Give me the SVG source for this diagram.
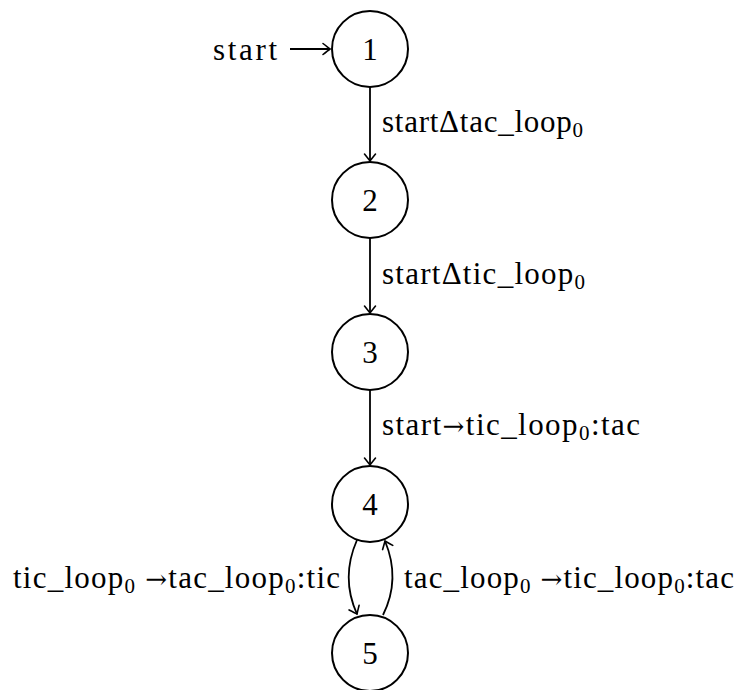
<svg xmlns="http://www.w3.org/2000/svg" width="737" height="690" viewBox="0 0 737 690">
<style>
text{font-size:31px;fill:#000}
.num{text-anchor:middle}
.sub{font-size:21px}
.ar{font-family:'DejaVu Serif',serif;font-size:26px}
.node circle{fill:#fff;stroke:#000;stroke-width:2}
.edge{fill:none;stroke:#000;stroke-width:1.8;marker-end:url(#arr)}
</style>
<defs>
<marker id="arr" viewBox="-9 -7 11 14" refX="0" refY="0" markerWidth="11" markerHeight="14" markerUnits="userSpaceOnUse" orient="auto">
<path d="M -7 -5.5 Q -2 -1.5 0 0 Q -2 1.5 -7 5.5" fill="none" stroke="#000" stroke-width="1.6" stroke-linecap="round"/>
</marker>
</defs>
<rect width="737" height="690" fill="#fff"/>
<g id="connectors">
<line class="edge" x1="290" y1="49" x2="330" y2="49"/>
<line class="edge" x1="370" y1="87" x2="370" y2="161"/>
<line class="edge" x1="370" y1="238" x2="370" y2="313"/>
<line class="edge" x1="370" y1="390" x2="370" y2="465"/>
<path class="edge" d="M 357 540 C 346 565 346 590 357 614"/>
<path class="edge" d="M 383 615 C 395 591 395 565 385 541"/>
</g>
<g id="labels" font-family="'Liberation Serif', 'Times New Roman', serif">
<text x="213" y="60" textLength="64" lengthAdjust="spacing">start</text>
<text x="382" y="132" textLength="201" lengthAdjust="spacing">startΔtac_loop<tspan class="sub" dy="5">0</tspan></text>
<text x="382" y="284" textLength="203" lengthAdjust="spacing">startΔtic_loop<tspan class="sub" dy="5">0</tspan></text>
<text x="382" y="435" textLength="258" lengthAdjust="spacing">start<tspan class="ar">→</tspan>tic_loop<tspan class="sub" dy="5">0</tspan><tspan dy="-5">:tac</tspan></text>
<text x="13" y="588" textLength="327" lengthAdjust="spacing">tic_loop<tspan class="sub" dy="5">0</tspan><tspan dy="-5"> </tspan><tspan class="ar">→</tspan>tac_loop<tspan class="sub" dy="5">0</tspan><tspan dy="-5">:tic</tspan></text>
<text x="404" y="588" textLength="330" lengthAdjust="spacing">tac_loop<tspan class="sub" dy="5">0</tspan><tspan dy="-5"> </tspan><tspan class="ar">→</tspan>tic_loop<tspan class="sub" dy="5">0</tspan><tspan dy="-5">:tac</tspan></text>
</g>
<g font-family="'Liberation Serif', 'Times New Roman', serif">
<g id="node1" class="node"><circle cx="370" cy="49" r="38"/><text class="num" x="370" y="60">1</text></g>
<g id="node2" class="node"><circle cx="370" cy="200" r="38"/><text class="num" x="370" y="211">2</text></g>
<g id="node3" class="node"><circle cx="370" cy="352" r="38"/><text class="num" x="370" y="363">3</text></g>
<g id="node4" class="node"><circle cx="370" cy="504" r="38"/><text class="num" x="370" y="515">4</text></g>
<g id="node5" class="node"><circle cx="370" cy="653" r="38"/><text class="num" x="370" y="664">5</text></g>
</g>
</svg>
